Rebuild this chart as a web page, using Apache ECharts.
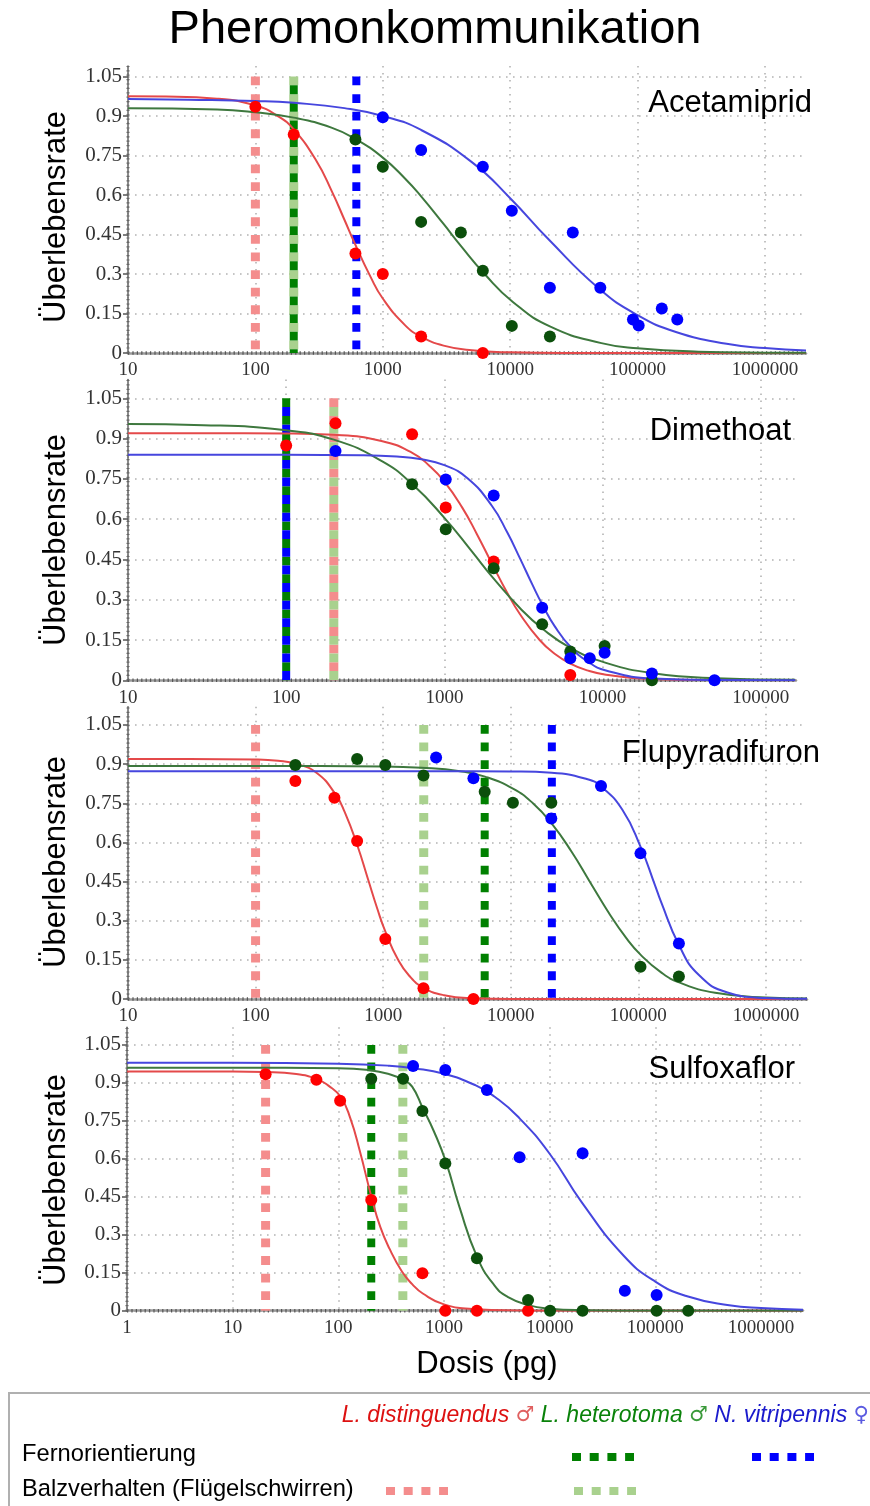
<!DOCTYPE html>
<html>
<head>
<meta charset="utf-8">
<script src="https://cdn.jsdelivr.net/npm/echarts@6/dist/echarts.min.js"></script>
<style>
  html, body { margin: 0; padding: 0; background: #ffffff; }
  #chart { width: 870px; height: 1506px; }
</style>
</head>
<body>
<div id="chart"></div>
<script>
// ---------- tick labels ----------
const yTickValues = [0, 0.15, 0.3, 0.45, 0.6, 0.75, 0.9, 1.05];
const xTicksFrom10 = [10, 100, 1000, 10000, 100000, 1000000];
const xTicksDimethoat = [10, 100, 1000, 10000, 100000];
const xTicksFrom1 = [1, 10, 100, 1000, 10000, 100000, 1000000];

// ---------- Acetamiprid: measured survival [dose pg, rate] and fitted curves ----------
const acetDistDots = [[100, 0.935], [200, 0.83], [610, 0.378], [1000, 0.30], [2000, 0.063], [6100, 0]];
const acetHetDots = [[610, 0.811], [1000, 0.707], [2000, 0.498], [4100, 0.458], [6100, 0.312], [10300, 0.103], [20500, 0.063]];
const acetVitDots = [[1000, 0.895], [2000, 0.771], [6100, 0.707], [10300, 0.54], [31000, 0.458], [20500, 0.248], [51000, 0.248], [92000, 0.127], [102000, 0.104], [155000, 0.169], [205000, 0.127]];
const acetDistFit = [[10, 0.975], [20, 0.974], [50, 0.966], [100, 0.94], [150, 0.90], [200, 0.849], [300, 0.731], [400, 0.612], [500, 0.506], [600, 0.418], [800, 0.29], [1000, 0.207], [1500, 0.105], [2000, 0.062], [3000, 0.028], [5000, 0.010], [10000, 0.0026], [30000, 0.0003], [100000, 0], [2100000, 0]];
const acetHetFit = [[10, 0.93], [50, 0.925], [100, 0.914], [200, 0.894], [400, 0.855], [620, 0.811], [1000, 0.742], [1500, 0.662], [2000, 0.595], [3000, 0.49], [4100, 0.407], [6300, 0.30], [10500, 0.194], [20700, 0.10], [52000, 0.0375], [100000, 0.018], [300000, 0.0052], [1000000, 0.0013], [2100000, 0.0006]];
const acetVitFit = [[10, 0.965], [30, 0.962], [100, 0.957], [200, 0.95], [500, 0.93], [1000, 0.90], [2000, 0.847], [5000, 0.725], [10000, 0.588], [20000, 0.432], [50000, 0.244], [100000, 0.144], [200000, 0.08], [500000, 0.035], [1000000, 0.0186], [2100000, 0.0093]];

// ---------- Dimethoat ----------
const dimDistDots = [[100, 0.874], [205, 0.957], [625, 0.916], [1020, 0.643], [2050, 0.442], [6250, 0.02]];
const dimHetDots = [[625, 0.73], [1020, 0.562], [2050, 0.417], [4150, 0.209], [6250, 0.107], [10300, 0.128], [20500, 0]];
const dimVitDots = [[205, 0.854], [1020, 0.748], [2050, 0.688], [4150, 0.27], [6250, 0.082], [8300, 0.082], [10300, 0.103], [20500, 0.025], [51000, 0]];
const dimDistFit = [[10, 0.92], [30, 0.92], [100, 0.919], [200, 0.914], [400, 0.891], [630, 0.846], [800, 0.80], [1000, 0.74], [1300, 0.642], [1600, 0.546], [2000, 0.434], [2500, 0.325], [3000, 0.247], [4000, 0.15], [5000, 0.098], [6300, 0.0615], [8000, 0.037], [10500, 0.021], [20000, 0.005], [50000, 0.0007], [165000, 0]];
const dimHetFit = [[10, 0.954], [30, 0.95], [100, 0.931], [200, 0.896], [400, 0.817], [630, 0.729], [1000, 0.605], [1500, 0.478], [2000, 0.386], [3000, 0.269], [4170, 0.192], [6300, 0.12], [10500, 0.065], [20900, 0.0265], [52600, 0.0078], [165000, 0.0017]];
const dimVitFit = [[10, 0.84], [30, 0.84], [100, 0.84], [300, 0.838], [500, 0.833], [700, 0.824], [1000, 0.801], [1400, 0.752], [2000, 0.649], [2500, 0.55], [3000, 0.455], [3600, 0.356], [4170, 0.281], [5000, 0.20], [6300, 0.123], [8000, 0.071], [10500, 0.0367], [20900, 0.0064], [50000, 0.0007], [165000, 0]];

// ---------- Flupyradifuron ----------
const fluDistDots = [[205, 0.835], [415, 0.771], [625, 0.605], [1040, 0.23], [2070, 0.041], [5100, 0]];
const fluHetDots = [[205, 0.897], [625, 0.92], [1040, 0.897], [2070, 0.856], [6250, 0.794], [10400, 0.752], [20800, 0.752], [104000, 0.124], [208000, 0.086]];
const fluVitDots = [[2600, 0.925], [5100, 0.846], [20800, 0.692], [51000, 0.816], [104000, 0.558], [208000, 0.213]];
const fluDistFit = [[10, 0.92], [30, 0.92], [100, 0.918], [150, 0.913], [208, 0.901], [300, 0.867], [420, 0.787], [500, 0.716], [627, 0.589], [760, 0.46], [900, 0.346], [1045, 0.256], [1300, 0.153], [1600, 0.089], [2080, 0.0426], [3000, 0.0147], [5140, 0.003], [10000, 0], [100000, 0], [2100000, 0]];
const fluHetFit = [[10, 0.893], [100, 0.893], [1000, 0.891], [2000, 0.886], [4000, 0.873], [6280, 0.852], [10500, 0.805], [15000, 0.749], [20900, 0.673], [30000, 0.564], [42000, 0.4465], [59800, 0.324], [80000, 0.235], [104000, 0.17], [150000, 0.103], [209000, 0.0637], [400000, 0.0236], [1000000, 0.0056], [2100000, 0.0017]];
const fluVitFit = [[10, 0.873], [100, 0.873], [1000, 0.873], [5000, 0.873], [10000, 0.872], [20900, 0.867], [40000, 0.842], [51500, 0.813], [75000, 0.725], [104000, 0.584], [135000, 0.4365], [150000, 0.375], [209000, 0.205], [300000, 0.0907], [500000, 0.0248], [1000000, 0.004], [2100000, 0.0005]];

// ---------- Sulfoxaflor ----------
const sulDistDots = [[20.5, 0.934], [62, 0.912], [104, 0.829], [205, 0.437], [625, 0.148], [1030, 0], [2050, 0], [6250, 0]];
const sulHetDots = [[205, 0.916], [410, 0.916], [625, 0.789], [1030, 0.582], [2050, 0.207], [6250, 0.042], [10100, 0], [20500, 0], [103000, 0], [205000, 0]];
const sulVitDots = [[510, 0.967], [1030, 0.951], [2550, 0.872], [5200, 0.606], [20500, 0.622], [51500, 0.079], [103000, 0.062]];
const sulDistFit = [[1, 0.945], [3, 0.945], [10, 0.945], [20, 0.943], [40, 0.935], [63, 0.915], [80, 0.89], [105, 0.845], [130, 0.76], [160, 0.63], [207, 0.445], [250, 0.33], [305, 0.245], [400, 0.155], [500, 0.105], [630, 0.068], [1000, 0.025], [2000, 0.006], [5000, 0.001], [10000, 0], [100000, 0], [2500000, 0]];
const sulHetFit = [[1, 0.96], [10, 0.96], [100, 0.958], [200, 0.95], [300, 0.935], [413, 0.912], [500, 0.885], [630, 0.80], [800, 0.71], [1050, 0.585], [1400, 0.41], [2070, 0.21], [3000, 0.10], [4000, 0.055], [6300, 0.022], [10000, 0.008], [20000, 0.002], [100000, 0], [2500000, 0]];
const sulVitFit = [[1, 0.98], [10, 0.98], [100, 0.976], [300, 0.968], [513, 0.958], [1000, 0.936], [2000, 0.89], [3000, 0.846], [5000, 0.767], [10000, 0.62], [20000, 0.43], [50000, 0.218], [100000, 0.115], [200000, 0.057], [500000, 0.0217], [1000000, 0.0103], [2500000, 0.004]];

// ---------- behavioural thresholds (dose pg), order: Balz L.d., Balz L.h., Fern L.h., Fern N.v. ----------
const thresholdKeys = ['balzDist', 'balzHet', 'fernHet', 'fernVit'];
const acetThresholds = [100, 200, 200, 620];
const dimThresholds = [200, 200, 100, 100];
const fluThresholds = [100, 2080, 6250, 21000];
const sulThresholds = [20.5, 408, 205, null];

// ---------- layout / styling ----------
const FONT = '"Liberation Sans", Arial, sans-serif';
const SYMBOL_FONT = '"DejaVu Sans", "Noto Sans", sans-serif';
const TICK_FONT = '"Liberation Serif", "Times New Roman", serif';
const dotColor = { dist: '#ff0000', het: '#0b4f0b', vit: '#0000ff' };
const fitColor = { dist: '#e4494a', het: '#3e783e', vit: '#4646de' };
const thresholdStyle = {
  balzDist: { color: '#f48d8d', width: 9 },
  balzHet:  { color: '#a9d18e', width: 9 },
  fernHet:  { color: '#008000', width: 8 },
  fernVit:  { color: '#0000ff', width: 8 }
};
const DASH = 8.8;

const panels = [
  { title: 'Acetamiprid', titleX: 812, titleY: 103, box: { left: 128, top: 66, width: 678, height: 287 }, xMin: 10, xMax: 2100000, yMax: 1.09, xTicks: xTicksFrom10,
    dots: [acetDistDots, acetHetDots, acetVitDots], fits: [acetDistFit, acetHetFit, acetVitFit], thresholds: acetThresholds, nameY: 217 },
  { title: 'Dimethoat', titleX: 791, titleY: 431, box: { left: 128, top: 379.5, width: 668, height: 300.8 }, xMin: 10, xMax: 167000, yMax: 1.12, xTicks: xTicksDimethoat,
    dots: [dimDistDots, dimHetDots, dimVitDots], fits: [dimDistFit, dimHetFit, dimVitFit], thresholds: dimThresholds, nameY: 540 },
  { title: 'Flupyradifuron', titleX: 820, titleY: 753, box: { left: 128, top: 706.7, width: 679, height: 292.3 }, xMin: 10, xMax: 2100000, yMax: 1.12, xTicks: xTicksFrom10,
    dots: [fluDistDots, fluHetDots, fluVitDots], fits: [fluDistFit, fluHetFit, fluVitFit], thresholds: fluThresholds, nameY: 862 },
  { title: 'Sulfoxaflor', titleX: 795, titleY: 1069, box: { left: 127, top: 1027.2, width: 676, height: 283.5 }, xMin: 1, xMax: 2500000, yMax: 1.12, xTicks: xTicksFrom1,
    dots: [sulDistDots, sulHetDots, sulVitDots], fits: [sulDistFit, sulHetFit, sulVitFit], thresholds: sulThresholds, nameY: 1180 }
];
const speciesKeys = ['dist', 'het', 'vit'];

const gridLine = { color: '#b3b3b3', width: 1.6, type: [1.6, 5.4] };

const grids = [], xAxes = [], yAxes = [], series = [], graphics = [];

panels.forEach((p, i) => {
  grids.push(Object.assign({ outerBoundsMode: 'none', containLabel: false }, p.box));

  xAxes.push({
    type: 'log', logBase: 10, gridIndex: i, min: p.xMin, max: p.xMax,
    axisLine: { show: true, onZero: false, lineStyle: { color: '#9a9a9a', width: 2.5 } },
    axisTick: { show: false, customValues: p.xTicks },
    axisLabel: {
      customValues: p.xTicks, margin: 8, color: '#333333', fontFamily: TICK_FONT, fontSize: 19,
      formatter: v => String(Math.round(v))
    },
    splitLine: { show: true, lineStyle: gridLine }
  });

  yAxes.push({
    type: 'value', gridIndex: i, min: 0, max: p.yMax,
    axisLine: { show: true, onZero: false, lineStyle: { color: '#666666', width: 1.5 } },
    axisTick: { show: true, customValues: yTickValues, length: 5, lineStyle: { color: '#555555', width: 1.5 } },
    axisLabel: {
      customValues: yTickValues, margin: 6, color: '#333333', fontFamily: TICK_FONT, fontSize: 21,
      formatter: v => String(Math.round(v * 100) / 100)
    },
    splitLine: { show: true, lineStyle: gridLine }
  });

  // ruler-like marks along both axes
  series.push({
    type: 'line', xAxisIndex: i, yAxisIndex: i, silent: true, clip: false, symbol: 'none', z: 1,
    data: [[p.xMin, 0], [p.xMax, 0]],
    lineStyle: { color: '#555555', width: 3.5, type: [1.2, 3.2] }
  });
  series.push({
    type: 'line', xAxisIndex: i, yAxisIndex: i, silent: true, clip: false, symbol: 'none', z: 1,
    data: [[p.xMin, 0], [p.xMin, p.yMax]],
    lineStyle: { color: '#666666', width: 3, type: [1.2, 3.2] }
  });

  // behavioural threshold lines (dashed); coinciding lines interleave their dashes
  const seen = {};
  p.thresholds.forEach((dose, k) => {
    if (dose == null) return;
    const key = thresholdKeys[k];
    const st = thresholdStyle[key];
    const offset = seen[dose] ? DASH : 0;
    seen[dose] = true;
    series.push({
      type: 'line', xAxisIndex: i, yAxisIndex: i, silent: true, symbol: 'none', z: 2,
      data: [[dose, 1.05], [dose, 0]],
      lineStyle: { color: st.color, width: st.width, type: [DASH, DASH], dashOffset: offset }
    });
  });

  // fitted dose-response curves
  p.fits.forEach((fit, k) => {
    series.push({
      type: 'line', xAxisIndex: i, yAxisIndex: i, silent: true, symbol: 'none', z: 3,
      smooth: 0.5,
      data: fit,
      lineStyle: { color: fitColor[speciesKeys[k]], width: 2 }
    });
  });

  // observed survival rates
  p.dots.forEach((pts, k) => {
    series.push({
      type: 'scatter', xAxisIndex: i, yAxisIndex: i, z: 4, symbol: 'circle', symbolSize: 12,
      data: pts,
      itemStyle: { color: dotColor[speciesKeys[k]], opacity: 1 }
    });
  });

  graphics.push({
    type: 'text', x: p.titleX, y: p.titleY, z: 10,
    style: { text: p.title, fill: '#000000', font: '31px ' + FONT, align: 'right', verticalAlign: 'middle' }
  });
  graphics.push({
    type: 'text', x: 56, y: p.nameY, rotation: Math.PI / 2, z: 10,
    style: { text: 'Überlebensrate', fill: '#000000', font: '31px ' + FONT, align: 'center', verticalAlign: 'middle' }
  });
});

// chart title and x-axis caption
graphics.push({
  type: 'text', x: 435, y: 30, z: 10,
  style: { text: 'Pheromonkommunikation', fill: '#000000', font: '47px ' + FONT, align: 'center', verticalAlign: 'middle' }
});
graphics.push({
  type: 'text', x: 487, y: 1364, z: 10,
  style: { text: 'Dosis (pg)', fill: '#000000', font: '31px ' + FONT, align: 'center', verticalAlign: 'middle' }
});

// legend box
graphics.push({
  type: 'rect', z: 5, shape: { x: 9, y: 1393, width: 880, height: 130 },
  style: { fill: '#ffffff', stroke: '#b0b0b0', lineWidth: 2 }
});
graphics.push({
  type: 'text', x: 869, y: 1416, z: 10,
  style: {
    text: '{r|L. distinguendus }{rs|♂} {g|L. heterotoma }{gs|♂} {b|N. vitripennis }{bs|♀}',
    font: 'italic 23px ' + FONT, align: 'right', verticalAlign: 'middle',
    rich: {
      r: { fill: '#dd1111', fontStyle: 'italic', fontSize: 23, fontFamily: FONT },
      g: { fill: '#0a820a', fontStyle: 'italic', fontSize: 23, fontFamily: FONT },
      b: { fill: '#1a1acc', fontStyle: 'italic', fontSize: 23, fontFamily: FONT },
      rs: { fill: '#e06060', fontSize: 21, fontFamily: SYMBOL_FONT },
      gs: { fill: '#3a9a3a', fontSize: 21, fontFamily: SYMBOL_FONT },
      bs: { fill: '#5a5ae0', fontSize: 21, fontFamily: SYMBOL_FONT }
    }
  }
});
graphics.push({
  type: 'text', x: 22, y: 1454, z: 10,
  style: { text: 'Fernorientierung', fill: '#000000', font: '23.7px ' + FONT, align: 'left', verticalAlign: 'middle' }
});
graphics.push({
  type: 'text', x: 22, y: 1489, z: 10,
  style: { text: 'Balzverhalten (Flügelschwirren)', fill: '#000000', font: '23.7px ' + FONT, align: 'left', verticalAlign: 'middle' }
});
const legendSwatches = [
  { key: 'fernHet', x: 572, y: 1457 },
  { key: 'fernVit', x: 752, y: 1457 },
  { key: 'balzDist', x: 386, y: 1491 },
  { key: 'balzHet', x: 574, y: 1491 }
];
legendSwatches.forEach(s => {
  graphics.push({
    type: 'line', z: 10,
    shape: { x1: s.x, y1: s.y, x2: s.x + 62, y2: s.y },
    style: { stroke: thresholdStyle[s.key].color, lineWidth: 8, lineDash: [9, 8.7] }
  });
});

const chart = echarts.init(document.getElementById('chart'), null, { renderer: 'canvas' });
chart.setOption({
  animation: false,
  backgroundColor: '#ffffff',
  grid: grids,
  xAxis: xAxes,
  yAxis: yAxes,
  series: series,
  graphic: graphics
});
</script>
</body>
</html>
